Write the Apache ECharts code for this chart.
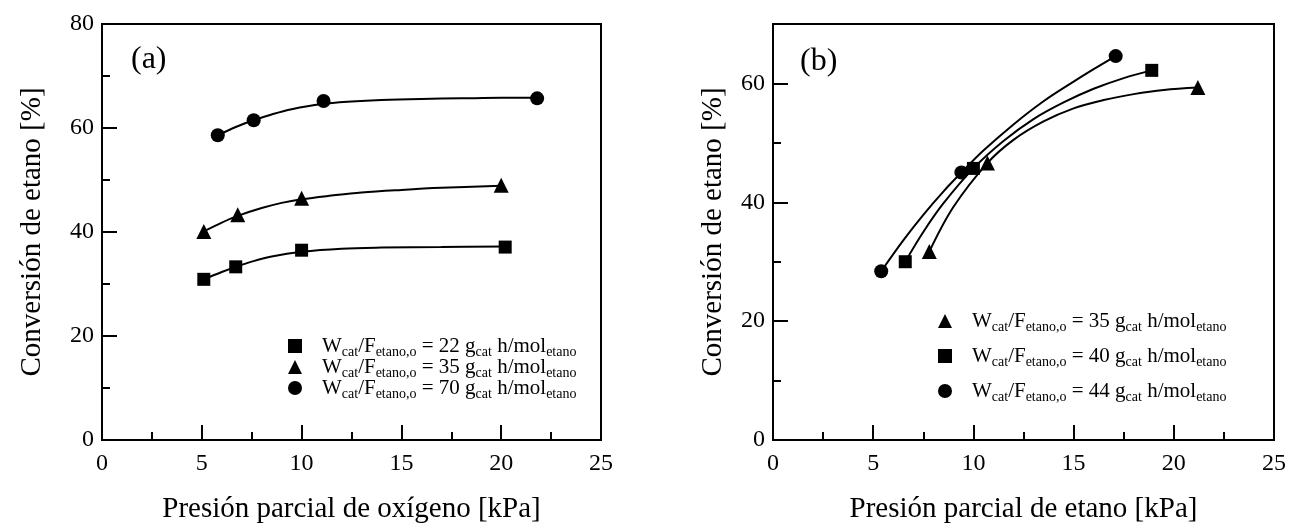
<!DOCTYPE html>
<html>
<head>
<meta charset="utf-8">
<script src="https://cdn.jsdelivr.net/npm/echarts@6/dist/echarts.min.js"></script>
<style>
html,body{margin:0;padding:0;background:#fff;}
#c{width:1289px;height:529px;}
</style>
</head>
<body>
<div id="c"></div>
<script>
// ---- Panel (a): conversion vs O2 partial pressure (measured points) ----
const xA22 = [5.1, 6.7, 10.0, 20.2];
const yA22 = [30.9, 33.3, 36.5, 37.1];
const xA35 = [5.1, 6.8, 10.0, 20.0];
const yA35 = [40.1, 43.3, 46.5, 49.0];
const xA70 = [5.8, 7.6, 11.1, 21.8];
const yA70 = [58.6, 61.5, 65.2, 65.7];
const legendA = ['22', '35', '70'];

// ---- Panel (a): fitted curves ----
const cxA22 = [5.1, 6.0, 6.7, 7.5, 8.5, 10.0, 12.0, 14.0, 17.0, 20.2];
const cyA22 = [30.9, 32.3, 33.3, 34.3, 35.3, 36.2, 36.8, 37.0, 37.1, 37.2];
const cxA35 = [5.1, 6.0, 6.8, 8.0, 9.0, 10.0, 11.5, 13.0, 15.0, 17.0, 20.0];
const cyA35 = [40.1, 41.8, 43.1, 44.6, 45.6, 46.3, 47.0, 47.6, 48.1, 48.5, 48.9];
const cxA70 = [5.8, 6.7, 7.6, 8.5, 9.5, 11.0, 12.5, 14.0, 16.0, 18.0, 20.0, 21.8];
const cyA70 = [58.6, 60.2, 61.5, 62.6, 63.6, 64.6, 65.1, 65.4, 65.6, 65.7, 65.8, 65.8];

// ---- Panel (b): conversion vs ethane partial pressure (measured points) ----
const xB35 = [7.8, 10.7, 21.2];
const yB35 = [31.7, 46.6, 59.3];
const xB40 = [6.6, 10.0, 18.9];
const yB40 = [30.0, 45.7, 62.2];
const xB44 = [5.4, 9.4, 17.1];
const yB44 = [28.4, 45.0, 64.6];
const legendB = ['35', '40', '44'];

// ---- Panel (b): fitted curves ----
const cxB35 = [7.8, 9.0, 10.7, 12.0, 13.5, 15.0, 16.5, 18.0, 19.5, 21.2];
const cyB35 = [31.7, 39.2, 46.6, 50.5, 53.6, 55.8, 57.2, 58.2, 58.9, 59.3];
const cxB40 = [6.6, 7.5, 8.5, 10.0, 11.5, 13.0, 14.5, 16.0, 17.5, 18.9];
const cyB40 = [30.0, 35.0, 39.8, 45.7, 50.3, 54.0, 56.8, 59.1, 60.9, 62.2];
const cxB44 = [5.4, 6.5, 7.5, 8.5, 9.4, 10.5, 12.0, 13.5, 15.0, 16.0, 17.1];
const cyB44 = [28.4, 33.6, 37.9, 41.8, 45.0, 48.7, 53.1, 57.0, 60.3, 62.4, 64.6];

const panelLabels = ['(a)', '(b)'];
const xTitles = ['Presión parcial de oxígeno [kPa]', 'Presión parcial de etano [kPa]'];
const yTitle = 'Conversión de etano [%]';

const FONT = 'Liberation Serif';
const BLACK = '#000';

function zip(xs, ys) { return xs.map((x, i) => [x, ys[i]]); }

const chart = echarts.init(document.getElementById('c'), null, {renderer: 'canvas'});

const tickStyle = {color: BLACK, width: 2};
function xAxisCfg(gi, title) {
  return {
    gridIndex: gi, type: 'value', min: 0, max: 25, interval: 5,
    axisLine: {show: true, onZero: false, lineStyle: {color: BLACK, width: 2}},
    axisTick: {show: true, inside: true, length: 15, lineStyle: tickStyle},
    minorTick: {show: true, splitNumber: 2, length: 8, lineStyle: tickStyle},
    splitLine: {show: false}, minorSplitLine: {show: false},
    axisLabel: {color: BLACK, fontSize: 24, fontFamily: FONT, margin: 12},
    name: title, nameLocation: 'middle', nameGap: 55,
    nameTextStyle: {color: BLACK, fontSize: 29, fontFamily: FONT}
  };
}

function curve(name, xi, yi, xs, ys) {
  return {
    name: name, type: 'line', xAxisIndex: xi, yAxisIndex: yi, smooth: 0.35,
    showSymbol: false, symbol: 'none', data: zip(xs, ys),
    lineStyle: {color: BLACK, width: 2}, itemStyle: {color: BLACK}, z: 2, silent: true
  };
}
function points(name, xi, yi, symbol, size, xs, ys) {
  return {
    name: name, type: 'scatter', xAxisIndex: xi, yAxisIndex: yi, symbol: symbol, symbolSize: size,
    data: zip(xs, ys), itemStyle: {color: BLACK, opacity: 1}, z: 3
  };
}

function legendFmt(vals, names) {
  return function (name) {
    const v = vals[names.indexOf(name)];
    return '{f|W}{s|cat}{n|/F}{s|etano,o}{n| = ' + v + ' g}{s|cat}{n| h/mol}{s|etano}';
  };
}
const rich = {
  f: {fontSize: 21, fontFamily: FONT, color: BLACK, lineHeight: 20, verticalAlign: 'top', padding: [0, 0, 0, 15]},
  n: {fontSize: 21, fontFamily: FONT, color: BLACK, lineHeight: 20, verticalAlign: 'top'},
  s: {fontSize: 14, fontFamily: FONT, color: BLACK, lineHeight: 13, verticalAlign: 'top', padding: [9, 0, 0, 0]}
};

const namesA = ['a22', 'a35', 'a70'];
const namesB = ['b35', 'b40', 'b44'];

const option = {
  backgroundColor: '#fff',
  animation: false,
  title: [
    {text: panelLabels[0], left: 126, top: 39, textStyle: {fontSize: 32, fontWeight: 'normal', fontFamily: FONT, color: BLACK}},
    {text: panelLabels[1], left: 795, top: 41, textStyle: {fontSize: 32, fontWeight: 'normal', fontFamily: FONT, color: BLACK}}
  ],
  grid: [
    {left: 102, right: 688, top: 24, bottom: 88, show: true, borderColor: BLACK, borderWidth: 2, backgroundColor: 'transparent'},
    {left: 773, right: 15, top: 24, bottom: 88, show: true, borderColor: BLACK, borderWidth: 2, backgroundColor: 'transparent'}
  ],
  xAxis: [xAxisCfg(0, xTitles[0]), xAxisCfg(1, xTitles[1])],
  yAxis: [
    {
      gridIndex: 0, type: 'value', min: 0, max: 80, interval: 20, position: 'left',
      axisLine: {show: true, lineStyle: {color: BLACK, width: 2}},
      axisTick: {show: true, inside: true, length: 15, lineStyle: tickStyle},
      minorTick: {show: true, splitNumber: 2, length: 8, lineStyle: tickStyle},
      splitLine: {show: false}, minorSplitLine: {show: false},
      axisLabel: {color: BLACK, fontSize: 24, fontFamily: FONT, margin: 8},
      name: yTitle, nameLocation: 'middle', nameGap: 55,
      nameTextStyle: {color: BLACK, fontSize: 29, fontFamily: FONT}
    },
    {
      gridIndex: 1, type: 'value', min: 0, max: 70, interval: 20, position: 'left',
      axisLine: {show: true, lineStyle: {color: BLACK, width: 2}},
      axisTick: {show: true, inside: true, length: 15, lineStyle: tickStyle},
      splitLine: {show: false},
      axisLabel: {color: BLACK, fontSize: 24, fontFamily: FONT, margin: 8, showMaxLabel: false,
        formatter: v => (v % 20 === 0 ? String(v) : '')},
      name: yTitle, nameLocation: 'middle', nameGap: 45,
      nameTextStyle: {color: BLACK, fontSize: 29, fontFamily: FONT}
    },
    {
      gridIndex: 1, type: 'value', min: 0, max: 70, interval: 10, position: 'left', offset: 0,
      axisLine: {show: false},
      axisTick: {show: true, inside: true, length: 8, lineStyle: tickStyle},
      splitLine: {show: false},
      axisLabel: {show: false}
    }
  ],
  legend: [
    {
      data: [{name: 'a22', icon: 'rect'}, {name: 'a35', icon: 'triangle'}, {name: 'a70', icon: 'circle'}],
      orient: 'vertical', left: 283, top: 331, itemWidth: 14, itemHeight: 14, itemGap: -2,
      selectedMode: false, formatter: legendFmt(legendA, namesA),
      textStyle: {color: BLACK, fontFamily: FONT, fontSize: 21, rich: rich}
    },
    {
      data: [{name: 'b35', icon: 'triangle'}, {name: 'b40', icon: 'rect'}, {name: 'b44', icon: 'circle'}],
      orient: 'vertical', left: 933, top: 306, itemWidth: 14, itemHeight: 14, itemGap: 12,
      selectedMode: false, formatter: legendFmt(legendB, namesB),
      textStyle: {color: BLACK, fontFamily: FONT, fontSize: 21, rich: rich}
    }
  ],
  series: [
    curve('fa22', 0, 0, cxA22, cyA22),
    curve('fa35', 0, 0, cxA35, cyA35),
    curve('fa70', 0, 0, cxA70, cyA70),
    curve('fb35', 1, 1, cxB35, cyB35),
    curve('fb40', 1, 1, cxB40, cyB40),
    curve('fb44', 1, 1, cxB44, cyB44),
    points('a22', 0, 0, 'rect', 13, xA22, yA22),
    points('a35', 0, 0, 'triangle', 15, xA35, yA35),
    points('a70', 0, 0, 'circle', 14, xA70, yA70),
    points('b35', 1, 1, 'triangle', 15, xB35, yB35),
    points('b40', 1, 1, 'rect', 13, xB40, yB40),
    points('b44', 1, 1, 'circle', 14, xB44, yB44)
  ]
};
chart.setOption(option);
</script>
</body>
</html>
